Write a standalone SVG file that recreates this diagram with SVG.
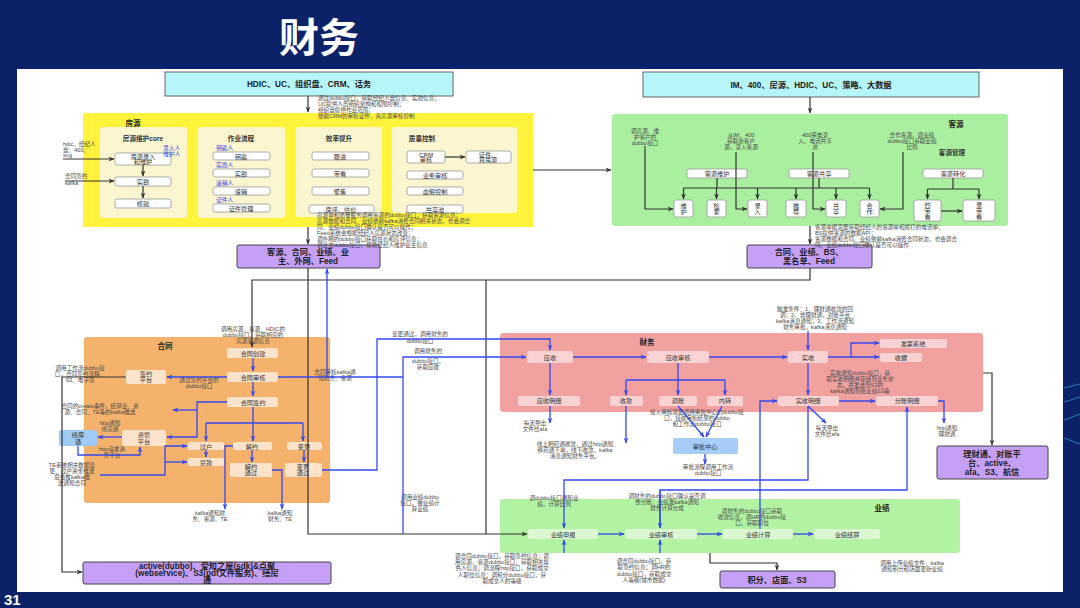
<svg xmlns="http://www.w3.org/2000/svg" width="1080" height="608" viewBox="0 0 1080 608">
<defs>
<marker id="ab" viewBox="0 0 10 10" refX="9" refY="5" markerWidth="6" markerHeight="6" markerUnits="userSpaceOnUse" orient="auto"><path d="M0,1 L10,5 L0,9 L3,5 Z" fill="#3448ee"/></marker>
<marker id="ak" viewBox="0 0 10 10" refX="9" refY="5" markerWidth="6" markerHeight="6" markerUnits="userSpaceOnUse" orient="auto"><path d="M0,1 L10,5 L0,9 L3,5 Z" fill="#333"/></marker>
</defs>
<style>
text{font-family:"Liberation Sans","Noto Sans CJK SC",sans-serif}
.a{font-size:5.6px;fill:#4a4a4a}
.ac{font-size:5.6px;fill:#4a4a4a;text-anchor:middle}
.n{font-size:6.2px;fill:#333;text-anchor:middle}
.sh{font-size:6.6px;font-weight:bold;fill:#333;text-anchor:middle}
.h{font-size:7.5px;font-weight:bold;fill:#222;text-anchor:middle}
.p{font-size:8.2px;font-weight:bold;fill:#222;text-anchor:middle}
.bt{font-size:5.8px;fill:#3448ee}
.wn{fill:#fff;stroke:#999;stroke-width:0.8}
.sub{fill:#fbf6cf}
.on{fill:#fbe4cb}
.rn{fill:#f9d3d3}
.gn{fill:#dcf8d2}
.pu{fill:#c6a0f6;stroke:#444;stroke-width:1}
.cy{fill:#b6f6f8;stroke:#666;stroke-width:1}
.cb{fill:none;stroke:#3448ee;stroke-width:1.3}
.ck{fill:none;stroke:#333;stroke-width:1.2}
</style>

<!-- background -->
<rect x="0" y="0" width="1080" height="608" fill="#0b2268"/>
<rect x="17" y="69" width="1046" height="523" fill="#ffffff"/>
<g stroke="#2fa6d6" stroke-width="1" opacity="0.7">
<line x1="1064" y1="388" x2="1080" y2="384"/>
<line x1="1064" y1="402" x2="1080" y2="397"/>
<line x1="1064" y1="420" x2="1080" y2="414"/>
<line x1="1064" y1="438" x2="1080" y2="444"/>
</g>
<text x="279" y="52" font-size="40" font-weight="bold" fill="#ffffff">财务</text>
<text x="4" y="605" font-size="15" font-weight="bold" fill="#ffffff">31</text>

<!-- top sources -->
<g id="src1"><rect class="cy" x="165" y="72" width="288" height="24"/><text class="p" x="309" y="87">HDIC、UC、组织盘、CRM、话务</text></g>
<g id="src2"><rect class="cy" x="643" y="72" width="336" height="25"/><text class="p" x="811" y="88">IM、400、房源、HDIC、UC、策略、大数据</text></g>

<!-- 房源 region -->
<g id="fangyuan">
<rect x="83" y="113" width="450" height="114" fill="#fff33b"/>
<text class="h" x="133" y="126">房源</text>
<rect class="sub" x="100" y="127" width="87" height="91" rx="3"/>
<rect class="sub" x="198" y="127" width="87" height="91" rx="3"/>
<rect class="sub" x="296" y="127" width="86" height="90" rx="3"/>
<rect class="sub" x="392" y="127" width="125" height="86" rx="3"/>
<text class="sh" x="143" y="141">房源维护core</text>
<text class="sh" x="241" y="141">作业流程</text>
<text class="sh" x="339" y="141">效率提升</text>
<text class="sh" x="422" y="141">质量控制</text>
<rect class="wn" x="115" y="153" width="56" height="12" rx="2"/><text class="n" x="143" y="158.5">房源录入</text><text class="n" x="143" y="164">和维护</text>
<text class="bt" x="163" y="150">录入人</text><text class="bt" x="163" y="156">维护人</text>
<rect class="wn" x="115" y="177" width="56" height="9" rx="2"/><text class="n" x="143" y="184">实勘</text>
<rect class="wn" x="115" y="199" width="56" height="9" rx="2"/><text class="n" x="143" y="206">核验</text>
<text class="bt" x="216" y="150">钥匙人</text>
<rect class="wn" x="213" y="152" width="57" height="8" rx="2"/><text class="n" x="241" y="158.5">钥匙</text>
<text class="bt" x="216" y="167">实勘人</text>
<rect class="wn" x="213" y="169" width="57" height="8" rx="2"/><text class="n" x="241" y="175.5">实勘</text>
<text class="bt" x="216" y="185">速销人</text>
<rect class="wn" x="213" y="187" width="57" height="8" rx="2"/><text class="n" x="241" y="193.5">速销</text>
<text class="bt" x="216" y="202">证件人</text>
<rect class="wn" x="213" y="204" width="57" height="8" rx="2"/><text class="n" x="241" y="210.5">证件管理</text>
<rect class="wn" x="312" y="152" width="57" height="8" rx="2"/><text class="n" x="340" y="158.5">跟进</text>
<rect class="wn" x="312" y="169" width="57" height="8" rx="2"/><text class="n" x="340" y="175.5">带看</text>
<rect class="wn" x="312" y="187" width="57" height="8" rx="2"/><text class="n" x="340" y="193.5">聚焦</text>
<rect class="wn" x="309" y="205" width="65" height="8" rx="2"/><text class="n" x="341" y="211.5">房评、估价</text>
<rect class="wn" x="407" y="151" width="38" height="12" rx="2"/><text class="n" x="426" y="156.5">CRM</text><text class="n" x="426" y="162">审核</text>
<rect class="wn" x="466" y="151" width="45" height="12" rx="2"/><text class="n" x="488" y="156.5">证件、</text><text class="n" x="488" y="162">真房源</text>
<rect class="wn" x="407" y="171" width="56" height="8" rx="2"/><text class="n" x="435" y="177.5">业务审核</text>
<rect class="wn" x="407" y="187" width="56" height="8" rx="2"/><text class="n" x="435" y="193.5">虚假控制</text>
<rect class="wn" x="407" y="205" width="56" height="8" rx="2"/><text class="n" x="435" y="211.5">共享池</text>
</g>

<!-- 客源 region -->
<g id="keyuan">
<rect x="612" y="114" width="396" height="112" rx="3" fill="#a9ef9f"/>
<text class="h" x="956" y="127">客源</text>
<text class="sh" x="952" y="155">客源管理</text>
<text class="ac" x="645" y="133">调房源、维</text><text class="ac" x="645" y="139">护客户的</text><text class="ac" x="645" y="145">dubbo接口</text>
<text class="ac" x="741" y="137">从IM、400</text><text class="ac" x="741" y="143">获取新客户</text><text class="ac" x="741" y="149">源，录入客源</text>
<text class="ac" x="815" y="137">400来电录</text><text class="ac" x="815" y="143">入，电话共享</text><text class="ac" x="815" y="149">池</text>
<text class="ac" x="912" y="137">合作客源，调业绩</text><text class="ac" x="912" y="143">dubbo接口获取业绩</text><text class="ac" x="912" y="149">比例</text>
<rect class="wn" x="687" y="169" width="60" height="9" rx="2"/><text class="n" x="717" y="176">客源维护</text>
<rect class="wn" x="789" y="169" width="60" height="9" rx="2"/><text class="n" x="819" y="176">客源共享</text>
<rect class="wn" x="923" y="169" width="60" height="9" rx="2"/><text class="n" x="953" y="176">客源转化</text>
<rect class="wn" x="674" y="200" width="19" height="17" rx="2"/><text class="n" x="683.5" y="207.5">维</text><text class="n" x="683.5" y="214">护</text>
<rect class="wn" x="707" y="200" width="19" height="17" rx="2"/><text class="n" x="716.5" y="207.5">检</text><text class="n" x="716.5" y="214">索</text>
<rect class="wn" x="748" y="200" width="19" height="17" rx="2"/><text class="n" x="757.5" y="207.5">录</text><text class="n" x="757.5" y="214">入</text>
<rect class="wn" x="786" y="200" width="20" height="17" rx="2"/><text class="n" x="796" y="207.5">推</text><text class="n" x="796" y="214">荐</text>
<rect class="wn" x="826" y="200" width="20" height="17" rx="2"/><text class="n" x="836" y="207.5">共</text><text class="n" x="836" y="214">享</text>
<rect class="wn" x="860" y="200" width="19" height="17" rx="2"/><text class="n" x="869.5" y="207.5">合</text><text class="n" x="869.5" y="214">作</text>
<rect class="wn" x="914" y="200" width="27" height="21" rx="2"/><text class="n" x="927.5" y="206.5">约</text><text class="n" x="927.5" y="212.5">带</text><text class="n" x="927.5" y="218.5">看</text>
<rect class="wn" x="963" y="200" width="32" height="21" rx="2"/><text class="n" x="979" y="206.5">录</text><text class="n" x="979" y="212.5">带</text><text class="n" x="979" y="218.5">看</text>
</g>

<!-- purple targets -->
<g id="t1"><rect class="pu" x="237" y="245" width="143" height="23" rx="2"/><text class="p" x="308" y="255">客源、合同、业绩、业</text><text class="p" x="308" y="264">主、外网、Feed</text></g>
<g id="t2"><rect class="pu" x="747" y="245" width="125" height="23" rx="2"/><text class="p" x="809" y="255">合同、业绩、BS、</text><text class="p" x="809" y="264">黑名单、Feed</text></g>
<g id="t3"><rect class="pu" x="937" y="446" width="111" height="33" rx="2"/><text class="p" x="992" y="457">理财通、对账平</text><text class="p" x="992" y="466">台、active、</text><text class="p" x="992" y="475">afa、S3、航信</text></g>
<g id="t4"><rect class="pu" x="720" y="571" width="115" height="17" rx="2"/><text class="p" x="777" y="582.5">积分、店面、S3</text></g>
<g id="t5"><rect class="pu" x="83" y="562" width="248" height="22" rx="2"/><text class="p" x="207" y="568.5" font-size="7.2">active(dubbo)、爱知之屋(sdk)&amp;点聚</text><text class="p" x="207" y="575.5" font-size="7.2">(webservice)、S3(pdf文件服务)、缮房</text><text class="p" x="207" y="582.5" font-size="7.2">通</text></g>

<!-- 合同 region -->
<g id="hetong">
<rect x="84" y="337" width="246" height="166" rx="3" fill="#f4b26c"/>
<text class="h" x="165" y="349">合同</text>
<rect class="on" x="227" y="348" width="51" height="10" rx="2"/><text class="n" x="253" y="355.5">合同创建</text>
<rect class="on" x="227" y="372" width="51" height="10" rx="2"/><text class="n" x="253" y="379.5">合同审核</text>
<rect class="on" x="227" y="397" width="51" height="10" rx="2"/><text class="n" x="253" y="404.5">合同签约</text>
<rect class="on" x="126" y="370" width="40" height="14" rx="2"/><text class="n" x="146" y="376">签约</text><text class="n" x="146" y="382">平台</text>
<rect class="on" x="122" y="430" width="44" height="16" rx="2"/><text class="n" x="144" y="437">资管</text><text class="n" x="144" y="443.5">平台</text>
<rect x="59" y="430" width="38" height="16" rx="2" fill="#9fcbf6"/><text class="n" x="78" y="437">缮房</text><text class="n" x="78" y="443.5">通</text>
<rect class="on" x="188" y="442" width="36" height="8" rx="2"/><text class="n" x="206" y="448.5">过户</text>
<rect class="on" x="233" y="442" width="39" height="8" rx="2"/><text class="n" x="252" y="448.5">解约</text>
<rect class="on" x="287" y="442" width="35" height="8" rx="2"/><text class="n" x="304" y="448.5">变更</text>
<rect class="on" x="188" y="458" width="36" height="8" rx="2"/><text class="n" x="206" y="464.5">贷款</text>
<rect class="on" x="230" y="463" width="42" height="14" rx="2"/><text class="n" x="251" y="469">解约</text><text class="n" x="251" y="475">通过</text>
<rect class="on" x="285" y="463" width="37" height="14" rx="2"/><text class="n" x="303" y="469">变更</text><text class="n" x="303" y="475">通过</text>
</g>

<!-- 财务 region -->
<g id="caiwu">
<rect x="500" y="333" width="483" height="79" rx="3" fill="#f2a1a1"/>
<text class="h" x="647" y="345">财务</text>
<rect class="rn" x="527" y="351" width="46" height="12" rx="2"/><text class="n" x="550" y="359.5">应收</text>
<rect class="rn" x="647" y="351" width="62" height="12" rx="2"/><text class="n" x="678" y="359.5">应收审核</text>
<rect class="rn" x="788" y="351" width="40" height="12" rx="2"/><text class="n" x="808" y="359.5">实收</text>
<rect class="rn" x="880" y="339" width="67" height="9" rx="2"/><text class="n" x="913" y="345.5">发票系统</text>
<rect class="rn" x="880" y="353" width="42" height="9" rx="2"/><text class="n" x="901" y="359.5">收据</text>
<rect class="rn" x="518" y="396" width="62" height="10" rx="2"/><text class="n" x="549" y="403">应收明细</text>
<rect class="rn" x="610" y="396" width="33" height="10" rx="2"/><text class="n" x="626" y="403">收款</text>
<rect class="rn" x="659" y="396" width="38" height="10" rx="2"/><text class="n" x="678" y="403">调账</text>
<rect class="rn" x="707" y="396" width="36" height="10" rx="2"/><text class="n" x="725" y="403">内转</text>
<rect class="rn" x="778" y="396" width="61" height="10" rx="2"/><text class="n" x="808" y="403">实收明细</text>
<rect class="rn" x="876" y="396" width="62" height="10" rx="2"/><text class="n" x="907" y="403">分账明细</text>
</g>
<g id="shenpi"><rect x="673" y="438" width="65" height="16" rx="2" fill="#a6cdf7"/><text class="n" x="705" y="448.5">审批中心</text></g>

<!-- 业绩 region -->
<g id="yeji">
<rect x="500" y="499" width="460" height="54" rx="3" fill="#b1f3a2"/>
<text class="h" x="882" y="511">业绩</text>
<rect class="gn" x="528" y="529" width="70" height="10" rx="2"/><text class="n" x="563" y="536.5">业绩申报</text>
<rect class="gn" x="625" y="529" width="72" height="10" rx="2"/><text class="n" x="661" y="536.5">业绩审核</text>
<rect class="gn" x="723" y="529" width="70" height="10" rx="2"/><text class="n" x="758" y="536.5">业绩计算</text>
<rect class="gn" x="814" y="529" width="66" height="10" rx="2"/><text class="n" x="847" y="536.5">业绩结算</text>
</g>

<!-- annotations -->
<g id="notes">
<text class="a" x="318" y="100">通过dubbo接口，获取经纪人盘信息、实勘信息；</text>
<text class="a" x="318" y="106">UC提供人员组织架构和权限控制；</text>
<text class="a" x="318" y="112">组织盘提供作业范围；</text>
<text class="a" x="318" y="118">依赖CRM的审核证件、真房源审核控制</text>
<text class="a" x="63" y="146">hdic、经纪人</text><text class="a" x="63" y="152">盘、400、</text><text class="a" x="63" y="157">sug</text>
<text class="a" x="65" y="178">合同签约</text><text class="a" x="65" y="185">kafka</text>
<text class="a" x="317" y="217">房源单和质量服务调用客源的dubbo接口，获取客源信息；</text>
<text class="a" x="317" y="223">房源数据和合同、业绩依赖kafka消费合同相关状态，也会调合</text>
<text class="a" x="317" y="229">同、业绩dubbo接口确认是否可以操作；</text>
<text class="a" x="317" y="235">Feed系统会根据经纪人房源状态改变；</text>
<text class="a" x="317" y="241">调外网的dubbo接口获取估价和房评信息；</text>
<text class="a" x="317" y="247">调业主dubbo接口，帮助经纪人维护业主信息</text>
<text class="a" x="815" y="229">客源单据需要获取经纪人的客源单和拨打的电话单；</text>
<text class="a" x="815" y="235">BS提供客源的数据API；</text>
<text class="a" x="815" y="241">客源数据和合同、业绩依赖kafka消费合同状态，也会调合</text>
<text class="a" x="815" y="247">同、业绩dubbo接口确认是否可以操作</text>
<text class="ac" x="253" y="331">调用房源、客源、HDIC的</text><text class="ac" x="253" y="337">dubbo接口，获取相应的</text><text class="ac" x="253" y="343">房源客源信息</text>
<text class="ac" x="80" y="370">调用工作流dubbo接</text><text class="ac" x="80" y="376">口，合同签约流程、</text><text class="ac" x="80" y="382">S3、电子签</text>
<text class="ac" x="199" y="382">通过签约平台的</text><text class="ac" x="199" y="388">dubbo接口</text>
<text class="ac" x="100" y="408">合同的create事件，结算业、资</text><text class="ac" x="100" y="414">源、合同、TE等的kafka推送</text>
<text class="ac" x="110" y="425">http通知</text><text class="ac" x="110" y="431">缮房通</text>
<text class="ac" x="112" y="451">http请求资</text><text class="ac" x="112" y="457">管平台</text>
<text class="ac" x="72" y="467">TE系统相关数据变</text><text class="ac" x="72" y="473">更、过户资金推送</text><text class="ac" x="72" y="479">后会推kafka推</text><text class="ac" x="72" y="485">送通知合同</text>
<text class="ac" x="210" y="515">kafka通知财</text><text class="ac" x="210" y="521">务、客源、TE</text>
<text class="ac" x="280" y="515">kafka通知</text><text class="ac" x="280" y="521">财务、TE</text>
<text class="ac" x="335" y="374">合同审核kafka通</text><text class="ac" x="335" y="380">知财务、客源</text>
<text class="ac" x="420" y="336">变更通过，调用财务的</text><text class="ac" x="420" y="343">dubbo接口</text>
<text class="ac" x="428" y="353">调用财务的</text><text class="ac" x="428" y="363">dubbo接口，</text><text class="ac" x="428" y="369">获取应收</text>
<text class="ac" x="420" y="499">调用业绩dubbo</text><text class="ac" x="420" y="505">接口，做业绩计</text><text class="ac" x="420" y="511">算业绩</text>
<text class="ac" x="535" y="425">每天导出</text><text class="ac" x="535" y="431">文件给afa</text>
<text class="ac" x="575" y="446">线上相府通收款，通过http通知</text><text class="ac" x="575" y="452">移府通下单，线下收款，kafka</text><text class="ac" x="575" y="458">消息通知财务平台。</text>
<text class="ac" x="697" y="414">接入审核需要调用审批中心的dubbo接</text><text class="ac" x="697" y="420">口，接收审核结果的dubbo</text><text class="ac" x="697" y="426">和工作流dubbo接口</text>
<text class="ac" x="708" y="469">审批流程调用工作流</text><text class="ac" x="708" y="475">dubbo接口</text>
<text class="ac" x="815" y="311">触发条件：1、理财通收款的回</text><text class="ac" x="815" y="317">调；2、非理财通，对账平台</text><text class="ac" x="815" y="323">kafka消息通知；3、工作流通知</text><text class="ac" x="815" y="329">财务审批，kafka消息通知</text>
<text class="ac" x="860" y="375">实收通知dubbo接口，获</text><text class="ac" x="860" y="381">取实收明细并存储到业务状</text><text class="ac" x="860" y="387">态，并发送到S3的</text><text class="ac" x="860" y="393">kafka通知到账业绩S3等</text>
<text class="ac" x="827" y="430">每天导出</text><text class="ac" x="827" y="436">文件给afa</text>
<text class="ac" x="947" y="430">http通知</text><text class="ac" x="947" y="436">理财通</text>
<text class="ac" x="554" y="500">调dubbo接口通知业</text><text class="ac" x="554" y="506">绩，计算比例</text>
<text class="ac" x="667" y="498">调财务的dubbo接口确认是否调</text><text class="ac" x="667" y="504">整分账；业绩发kafka通知</text><text class="ac" x="667" y="510">财务计算分成</text>
<text class="ac" x="752" y="513">调财务的dubbo接口获取</text><text class="ac" x="752" y="519">收款信息，调HR的dubbo接</text><text class="ac" x="752" y="525">口，获取职位</text>
<text class="ac" x="502" y="558">调合同dubbo接口，获取签约信息；调</text><text class="ac" x="502" y="564">用房源、客源dubbo接口，获取相关角</text><text class="ac" x="502" y="570">色人信息；调流程http接口，获取成交</text><text class="ac" x="502" y="577">人职位信息；调积分dubbo接口，获</text><text class="ac" x="502" y="583">取成交人的等级</text>
<text class="ac" x="644" y="563">调合同dubbo接口，获</text><text class="ac" x="644" y="569">取签约信息；调HR的</text><text class="ac" x="644" y="576">dubbo接口，获取成交</text><text class="ac" x="644" y="582">人等级(城市数据)</text>
<text class="ac" x="912" y="565">调用上传业绩文件、kafka</text><text class="ac" x="912" y="571">通知积分和店面更新业绩</text>
</g>

<!-- connectors -->
<g id="connectors">
<path class="ck" d="M308,96 V112" marker-end="url(#ak)"/>
<path class="ck" d="M810,97 V113" marker-end="url(#ak)"/>
<path class="ck" d="M63,159 H114" marker-end="url(#ak)"/>
<path class="ck" d="M65,181 H114" marker-end="url(#ak)"/>
<path class="ck" d="M143,165 V176" marker-end="url(#ak)"/>
<path class="ck" d="M143,186 V198" marker-end="url(#ak)"/>
<path class="ck" d="M445,157 H465" marker-end="url(#ak)"/>
<path class="ck" d="M533,170 H611" marker-end="url(#ak)"/>
<path class="ck" d="M308,227 V244" marker-end="url(#ak)"/>
<path class="ck" d="M810,226 V244" marker-end="url(#ak)"/>
<path class="ck" d="M645,146 V209 H673" marker-end="url(#ak)"/>
<path class="ck" d="M736,152 V209 H747" marker-end="url(#ak)"/>
<path class="ck" d="M813,152 V209 H825" marker-end="url(#ak)"/>
<path class="ck" d="M903,152 V209 H880" marker-end="url(#ak)"/>
<path class="ck" d="M717,178 V188 M819,178 V188 M683.5,188 H869.5"/>
<path class="ck" d="M683.5,188 V199" marker-end="url(#ak)"/>
<path class="ck" d="M716.5,188 V199" marker-end="url(#ak)"/>
<path class="ck" d="M757.5,188 V199" marker-end="url(#ak)"/>
<path class="ck" d="M796,188 V199" marker-end="url(#ak)"/>
<path class="ck" d="M836,188 V199" marker-end="url(#ak)"/>
<path class="ck" d="M869.5,188 V199" marker-end="url(#ak)"/>
<path class="ck" d="M953,178 V189 M927.5,189 H979"/>
<path class="ck" d="M927.5,189 V199" marker-end="url(#ak)"/>
<path class="ck" d="M979,189 V199" marker-end="url(#ak)"/>
<path class="ck" d="M941,211 H962" marker-end="url(#ak)"/>
<path class="ck" d="M810,268 V280 H252 V347" marker-end="url(#ak)"/>
<path class="ck" d="M308,268 V534 H527" marker-end="url(#ak)"/>
<path class="ck" d="M486,280 V534"/>
<path class="ck" d="M126,377 H62 V572 H82" marker-end="url(#ak)"/>
<path class="ck" d="M983,373 H992 V445" marker-end="url(#ak)"/>
<path class="ck" d="M710,553 V563 H777 V570" marker-end="url(#ak)"/>

<path class="cb" d="M253,358 V371" marker-end="url(#ab)"/>
<path class="cb" d="M253,382 V396" marker-end="url(#ab)"/>
<path class="cb" d="M227,377 H167" marker-end="url(#ab)"/>
<path class="cb" d="M227,402 H197 V437 H167" marker-end="url(#ab)"/>
<path class="cb" d="M197,410 H173" marker-end="url(#ab)"/>
<path class="cb" d="M122,437 H98" marker-end="url(#ab)"/>
<path class="cb" d="M78,446 V455 H140 V447" marker-end="url(#ab)"/>
<path class="cb" d="M253,407 V423 M206,423 H303"/>
<path class="cb" d="M206,423 V441" marker-end="url(#ab)"/>
<path class="cb" d="M253,423 V441" marker-end="url(#ab)"/>
<path class="cb" d="M303,423 V441" marker-end="url(#ab)"/>
<path class="cb" d="M206,450 V457" marker-end="url(#ab)"/>
<path class="cb" d="M252,450 V462" marker-end="url(#ab)"/>
<path class="cb" d="M304,450 V462" marker-end="url(#ab)"/>
<path class="cb" d="M100,475 H165 V446 H187" marker-end="url(#ab)"/>
<path class="cb" d="M165,462 H187" marker-end="url(#ab)"/>
<path class="cb" d="M233,446 H225 V509" marker-end="url(#ab)"/>
<path class="cb" d="M272,470 H282 V509" marker-end="url(#ab)"/>
<path class="cb" d="M322,470 H377 V339 H550 V350" marker-end="url(#ab)"/>
<path class="cb" d="M278,377 H403"/>
<path class="cb" d="M327,377 V269" marker-end="url(#ab)"/>
<path class="cb" d="M403,534 V357 H526" marker-end="url(#ab)"/>
<path class="cb" d="M573,357 H646" marker-end="url(#ab)"/>
<path class="cb" d="M709,357 H787" marker-end="url(#ab)"/>
<path class="cb" d="M550,363 V395" marker-end="url(#ab)"/>
<path class="cb" d="M550,406 V423" marker-end="url(#ab)"/>
<path class="cb" d="M678,363 V395" marker-end="url(#ab)"/>
<path class="cb" d="M626,380 H725"/>
<path class="cb" d="M626,380 V395" marker-end="url(#ab)"/>
<path class="cb" d="M725,380 V395" marker-end="url(#ab)"/>
<path class="cb" d="M626,406 V443" marker-end="url(#ab)"/>
<path class="cb" d="M678,406 L704,437" marker-end="url(#ab)"/>
<path class="cb" d="M722,406 L706,437" marker-end="url(#ab)"/>
<path class="cb" d="M705,454 V464" marker-end="url(#ab)"/>
<path class="cb" d="M808,331 V350" marker-end="url(#ab)"/>
<path class="cb" d="M828,357 H879" marker-end="url(#ab)"/>
<path class="cb" d="M851,357 V343 H879" marker-end="url(#ab)"/>
<path class="cb" d="M808,363 V395" marker-end="url(#ab)"/>
<path class="cb" d="M839,401 H875" marker-end="url(#ab)"/>
<path class="cb" d="M808,406 L826,423" marker-end="url(#ab)"/>
<path class="cb" d="M938,401 H944 V423" marker-end="url(#ab)"/>
<path class="cb" d="M760,529 V401 H777" marker-end="url(#ab)"/>
<path class="cb" d="M808,406 V480 H564 V528" marker-end="url(#ab)"/>
<path class="cb" d="M660,528 V490 H907 V407" marker-end="url(#ab)"/>
<path class="cb" d="M660,490 V528" marker-end="url(#ab)"/>
<path class="cb" d="M564,553 V540" marker-end="url(#ab)"/>
<path class="cb" d="M660,553 V540" marker-end="url(#ab)"/>
<path class="cb" d="M598,534 H624" marker-end="url(#ab)"/>
<path class="cb" d="M697,534 H722" marker-end="url(#ab)"/>
<path class="cb" d="M793,534 H813" marker-end="url(#ab)"/>
</g>
</svg>
